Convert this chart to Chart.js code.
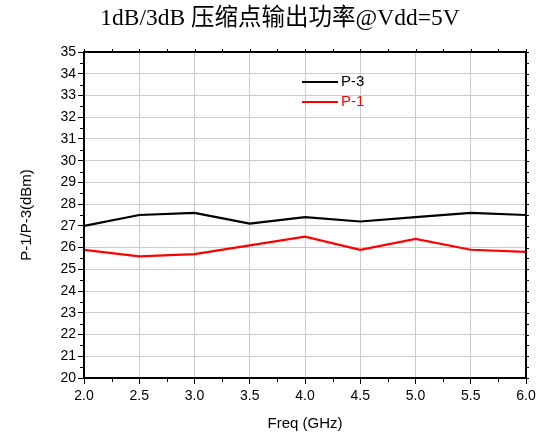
<!DOCTYPE html>
<html>
<head>
<meta charset="utf-8">
<script src="https://cdn.jsdelivr.net/npm/chart.js@4"></script>
<style>
  html, body { margin: 0; padding: 0; background: #fff; }
  #wrap { width: 547px; height: 435px; }
</style>
</head>
<body>
<div id="wrap"><canvas id="c" width="547" height="435"></canvas></div>
<script>
// dữ liệu
const freqs = [2.0, 2.5, 3.0, 3.5, 4.0, 4.5, 5.0, 5.5, 6.0];
const p3 = [27.0, 27.5, 27.6, 27.1, 27.4, 27.2, 27.4, 27.6, 27.5];
const p1 = [25.9, 25.6, 25.7, 26.1, 26.5, 25.9, 26.4, 25.9, 25.8];
const seriesNames = ["P-3", "P-1"];
const seriesColors = ["#000000", "#ff0000"];
const titleText = "1dB/3dB 压缩点输出功率@Vdd=5V";

const sansFont = "'Liberation Sans', Arial, sans-serif";

// khung, vạch phụ, chú thích, tiêu đề
const extras = {
  id: "extras",
  afterDraw(chart) {
    const { ctx, chartArea: a, scales } = chart;
    const xs = scales.x, ys = scales.y;
    ctx.save();
    ctx.strokeStyle = "#000";
    ctx.lineWidth = 2;
    ctx.strokeRect(a.left, a.top, a.right - a.left, a.bottom - a.top);

    ctx.lineWidth = 1;
    ctx.beginPath();
    for (let v = 2; v <= 6.001; v += 0.25) {
      const px = Math.round(xs.getPixelForValue(v)) + 0.5;
      const major = Math.abs(v * 2 - Math.round(v * 2)) < 1e-6;
      if (!major) {
        ctx.moveTo(px, a.bottom);
        ctx.lineTo(px, a.bottom + 4);
      }
      ctx.moveTo(px, a.top);
      ctx.lineTo(px, a.top - 3);
    }
    for (let v = 20; v <= 35.001; v += 0.5) {
      const py = Math.round(ys.getPixelForValue(v)) + 0.5;
      const major = Math.abs(v - Math.round(v)) < 1e-6;
      if (!major) {
        ctx.moveTo(a.left, py);
        ctx.lineTo(a.left - 4, py);
      }
      ctx.moveTo(a.right, py);
      ctx.lineTo(a.right + 3, py);
    }
    ctx.stroke();

    // chú thích
    chart.data.datasets.forEach((ds, i) => {
      const y = 82 + i * 20;
      ctx.strokeStyle = ds.borderColor;
      ctx.lineWidth = 2;
      ctx.beginPath();
      ctx.moveTo(302, y);
      ctx.lineTo(338, y);
      ctx.stroke();
      ctx.fillStyle = ds.borderColor;
      ctx.font = "15px " + sansFont;
      ctx.textBaseline = "middle";
      ctx.textAlign = "left";
      ctx.fillText(ds.label, 341, y);
    });

    ctx.fillStyle = "#000";
    ctx.font = "23.5px 'Liberation Serif', 'Times New Roman', 'Noto Sans CJK SC', serif";
    ctx.textAlign = "center";
    ctx.textBaseline = "middle";
    ctx.fillText(titleText, 280, 19);
    ctx.restore();
  }
};

new Chart(document.getElementById("c"), {
  type: "line",
  data: {
    datasets: [
      {
        label: seriesNames[0],
        data: freqs.map((f, i) => ({ x: f, y: p3[i] })),
        borderColor: seriesColors[0],
        borderWidth: 2.2,
        pointRadius: 0,
        tension: 0,
      },
      {
        label: seriesNames[1],
        data: freqs.map((f, i) => ({ x: f, y: p1[i] })),
        borderColor: seriesColors[1],
        borderWidth: 2.2,
        pointRadius: 0,
        tension: 0,
      },
    ],
  },
  options: {
    responsive: false,
    animation: false,
    layout: { padding: { top: 52, right: 21, left: 0, bottom: 0 } },
    plugins: {
      legend: { display: false },
      title: { display: false },
      tooltip: { enabled: false },
    },
    scales: {
      x: {
        type: "linear",
        min: 2,
        max: 6,
        afterFit: (s) => { s.height = 57; },
        ticks: {
          stepSize: 0.5,
          color: "#000",
          font: { family: sansFont, size: 14 },
          padding: 4,
          maxRotation: 0,
          callback: (v) => v.toFixed(1),
        },
        grid: { color: "#cccccc", tickColor: "#000", tickLength: 6, lineWidth: 1 },
        border: { color: "#000", width: 2 },
        title: {
          display: true,
          text: "Freq (GHz)",
          color: "#000",
          font: { family: sansFont, size: 15 },
          padding: { top: 0, bottom: 2 },
        },
      },
      y: {
        min: 20,
        max: 35,
        afterFit: (s) => { s.width = 84; },
        ticks: {
          stepSize: 1,
          color: "#000",
          font: { family: sansFont, size: 14 },
          padding: 2,
        },
        grid: { color: "#cccccc", tickColor: "#000", tickLength: 6, lineWidth: 1 },
        border: { color: "#000", width: 2 },
        title: {
          display: true,
          text: "P-1/P-3(dBm)",
          color: "#000",
          font: { family: sansFont, size: 15 },
          padding: { top: 18, bottom: 0 },
        },
      },
    },
  },
  plugins: [extras],
});
</script>
</body>
</html>
